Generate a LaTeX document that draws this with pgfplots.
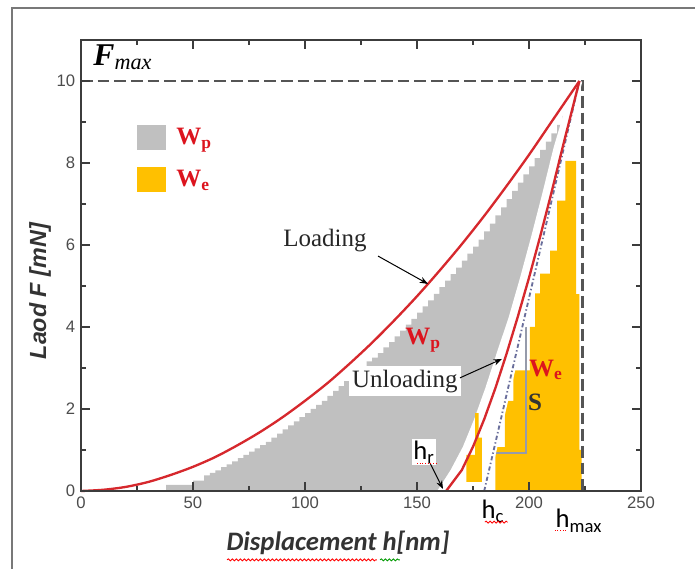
\documentclass[border=0pt]{standalone}
\usepackage{pgfplots}
\pgfplotsset{compat=1.18}
\usepackage{fontspec}
\setmainfont{Liberation Serif}
\newfontfamily\arial{Liberation Sans}
\newfontfamily\calibri{Carlito}
\usetikzlibrary{calc,decorations.pathmorphing,arrows.meta}

\definecolor{curvered}{RGB}{214,40,45}
\definecolor{textred}{RGB}{220,20,30}
\definecolor{wpgray}{RGB}{192,192,192}
\definecolor{weyellow}{RGB}{255,192,0}
\definecolor{framegray}{RGB}{120,120,120}
\definecolor{axisgray}{RGB}{60,60,60}
\definecolor{tangent}{RGB}{105,110,155}
\definecolor{sline}{RGB}{150,155,170}
\definecolor{dashgray}{RGB}{85,85,85}

\begin{document}
\begin{tikzpicture}
\begin{axis}[
  name=ax,
  scale only axis,
  width=336pt, height=270.6pt,
  xmin=0, xmax=250, ymin=0, ymax=11,
  xtick={0,50,...,250}, ytick={0,2,...,10},
  minor x tick num=1, minor y tick num=1,
  xtick pos=both, ytick pos=both,
  xticklabel pos=lower, yticklabel pos=left,
  major tick length=5.4pt, minor tick length=3pt,
  axis line style={axisgray, line width=1.2pt},
  tick style={axisgray, line width=1pt},
  /pgf/number format/assume math mode=true,
  tick label style={font=\arial\fontsize{10}{12}\selectfont, text=black!70},
  xlabel={\calibri\bfseries\itshape Displacement h[nm]},
  xlabel style={at={(axis description cs:0.459,-0.115)}, anchor=center,
    font=\fontsize{16}{19}\selectfont, text=black!80},
  ylabel={\arial\bfseries\itshape Laod F [mN]},
  ylabel style={at={(axis description cs:-0.073,0.443)}, anchor=center,
    font=\fontsize{14}{17}\selectfont, text=black!80},
  clip=false,
  axis on top,
  legend image code/.code={\fill[#1] (0pt,-7.5pt) rectangle (17.4pt,7.5pt);},
  legend style={at={(axis description cs:0.1,0.8115)}, anchor=north west,
    draw=none, fill=none, inner sep=0pt, row sep=10pt,
    font=\fontsize{15}{17}\selectfont, nodes={inner sep=1pt},
    /tikz/every odd column/.append style={column sep=5pt}},
  legend cell align=left,
]
% plastic work area (stepped, as in the scanned figure)
\addplot[draw=none, fill=wpgray, const plot, forget plot] coordinates {
 (38,0.15) (50,0.25) (55,0.38) (57.5,0.44) (60,0.5) (62.5,0.58) (65,0.65)
 (67.5,0.72) (70,0.8) (72.5,0.88) (75,0.96) (77.5,1.04) (80,1.12) (82.5,1.2)
 (85,1.3) (87.5,1.4) (90,1.5) (92.5,1.6) (95,1.7) (97.5,1.8) (100,1.9)
 (102.5,2.0) (105,2.1) (107.5,2.2) (110,2.32) (112.5,2.44) (115,2.56)
 (117.5,2.68) (120,2.8) (122.5,2.92) (125,3.04) (127.5,3.16) (130,3.25)
 (132.5,3.36) (135,3.5) (137.5,3.63) (140,3.77) (142.5,3.91) (145,4.06)
 (147.5,4.2) (150,4.35) (152.5,4.5) (155,4.65) (157.5,4.81) (160,4.97)
 (162.5,5.13) (165,5.29) (167.5,5.45) (170,5.62) (172.5,5.79) (175,5.96)
 (177.5,6.13) (180,6.33) (182.5,6.52) (185,6.72) (187.5,6.92) (190,7.12)
 (192.5,7.32) (195,7.52) (197.5,7.72) (200,7.92) (202.5,8.12) (205,8.32)
 (207.5,8.52) (210,8.72) (212.5,8.93) (215,9.15) (217.5,9.35) (219,9.35)
} \closedcycle;
% white gap left of the unloading curve
\addplot[draw=none, fill=white, forget plot] coordinates {
 (159,0) (165,0.51) (170.5,1.08) (175.5,1.75) (180.5,2.51) (185.5,3.35)
 (191,4.25) (196,5.2) (201,6.21) (206,7.27) (211,8.38) (216,9.3) (219.5,9.8)
 (230,9.8) (230,0)
} -- cycle;
% elastic work area
\addplot[draw=none, fill=weyellow, forget plot] coordinates {
 (185,0) (223.5,0) (223.5,1.0) (222.5,1.0) (222.5,4.8) (221,4.8) (221,8.05)
 (216.2,8.05) (216.2,7.08) (212.6,7.08) (212.6,5.86) (209.4,5.86) (209.4,5.3)
 (205,5.3) (205,4.82) (202.7,4.82) (202.7,4.0) (200.4,4.0) (200.4,2.94)
 (193,2.94) (193,2.2) (189.2,2.2) (189.2,1.07) (185,1.07)
} -- cycle;
\addplot[draw=none, fill=weyellow, forget plot] coordinates {
 (172,0.22) (179,0.22) (179,1.3) (177.5,1.3) (177.5,1.9) (176,1.9) (176,0.88) (172,0.88)
} -- cycle;

\addlegendimage{draw=none, fill=wpgray}
\addlegendentry{\textcolor{textred}{\bfseries W\textsubscript{p}}}
\addlegendimage{draw=none, fill=weyellow}
\addlegendentry{\textcolor{textred}{\bfseries W\textsubscript{e}}}

% F_max and h_max guide lines
\addplot[dashgray, line width=1.6pt, dash pattern=on 7pt off 3pt, forget plot]
 coordinates {(0,10) (224,10) (224,0)};

% stiffness triangle
\addplot[sline, line width=1.2pt, forget plot]
 coordinates {(198.5,4.0) (198.5,0.93) (183.9,0.93)};

% tangent to the unloading curve
\addplot[white, line width=3.5pt, forget plot] coordinates {(180,0) (222.5,10)};
\addplot[tangent, line width=1.1pt, dash pattern=on 2.5pt off 1.5pt on 0.8pt off 1.5pt, forget plot]
 coordinates {(180,0) (222.5,10)};

% unloading curve
\addplot[curvered, line width=1.4pt, forget plot] coordinates {
 (163,0) (170,0.51) (175,1.08) (180,1.75) (185,2.51) (190,3.35) (195,4.25)
 (200,5.20) (205,6.21) (210,7.27) (215,8.38) (222.5,10)
};
% loading curve
\addplot[curvered, line width=1.4pt, smooth, forget plot] coordinates {
 (0,0) (10,0.03) (20,0.10) (30,0.22) (40,0.39) (50,0.59) (60,0.83) (70,1.12)
 (80,1.44) (90,1.80) (100,2.20) (110,2.63) (120,3.11) (130,3.62) (140,4.17)
 (150,4.75) (160,5.37) (170,6.02) (180,6.71) (190,7.44) (200,8.20) (210,9.00)
 (222.5,10)
};

% annotations
\node[anchor=base west, inner sep=0pt] at (axis cs:5.4,10.39)
 {\fontsize{19}{22}\selectfont\bfseries\itshape F\textsubscript{\mdseries max}};
\node[text=black!85, font=\fontsize{15}{18}\selectfont] at (axis cs:108.9,6.12) {Loading};
\draw[-{Stealth[length=5pt]}, black, line width=0.6pt] (axis cs:132.6,5.73) -- (axis cs:154.9,5.05);
\node[fill=white, inner sep=2pt, text=black!85, font=\fontsize{15}{18}\selectfont] at (axis cs:144.6,2.68) {Unloading};
\draw[-{Stealth[length=5pt]}, black, line width=0.6pt] (axis cs:169.2,2.76) -- (axis cs:187.9,3.22);
\node[text=textred, font=\fontsize{15}{18}\selectfont\bfseries] at (axis cs:152.7,3.68) {W\textsubscript{p}};
\node[text=textred, font=\fontsize{15}{18}\selectfont\bfseries] at (axis cs:207.6,2.95) {W\textsubscript{e}};
\node[text=black!80, font=\fontsize{15}{18}\selectfont\bfseries] at (axis cs:202.7,2.17) {S};
\node[fill=white, inner sep=1pt, font=\calibri\fontsize{16}{19}\selectfont] at (axis cs:153.1,0.95) {h\textsubscript{r}};
\draw[-{Stealth[length=5pt]}, black, line width=0.6pt] (axis cs:155.8,0.68) -- (axis cs:161.6,0.05);
\node[font=\calibri\fontsize{16}{19}\selectfont] at (axis cs:183.9,-0.49) {h\textsubscript{c}};
\node[font=\calibri\fontsize{16}{19}\selectfont] at (axis cs:222.3,-0.73) {h\textsubscript{max}};

% spell-check underlines of the pasted labels
\draw[red, line width=0.5pt, decorate, decoration={snake, amplitude=0.6pt, segment length=2.4pt}]
 (axis cs:65.2,-1.68) -- (axis cs:132.1,-1.68);
\draw[green!60!black, line width=0.5pt, decorate, decoration={snake, amplitude=0.6pt, segment length=2.4pt}]
 (axis cs:133.5,-1.68) -- (axis cs:142.4,-1.68);
\draw[red, line width=0.5pt, decorate, decoration={snake, amplitude=0.6pt, segment length=2.4pt}]
 (axis cs:180.3,-0.76) -- (axis cs:190.5,-0.76);
\draw[red, line width=0.6pt, densely dotted] (axis cs:150,0.66) -- (axis cs:159.5,0.66);
\draw[red, line width=0.6pt, densely dotted] (axis cs:211.5,-0.97) -- (axis cs:217,-0.97);

% outer frame of the screenshot
\draw[framegray, line width=1.2pt] (axis cs:-30.8,-3) -- (axis cs:-30.8,11.78) -- (axis cs:300,11.78);
\end{axis}
\pgfresetboundingbox
\path[use as bounding box] ($(ax.south west)+(-48.6pt,-46.8pt)$) rectangle ++(417pt,341.4pt);
\end{tikzpicture}
\end{document}
